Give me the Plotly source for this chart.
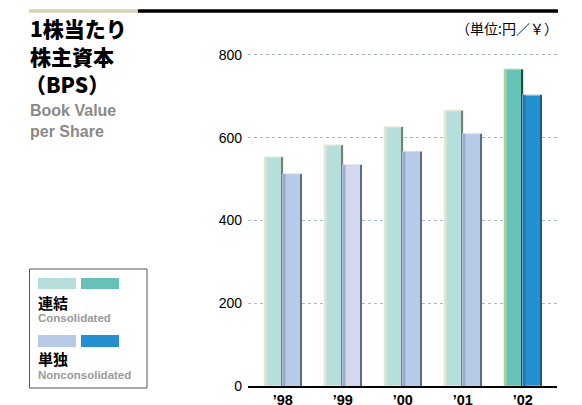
import plotly.graph_objects as go

# ---- data ----
years = ["’98", "’99", "’00", "’01", "’02"]
consolidated = [553, 582, 626, 665, 765]
nonconsolidated = [512, 534, 566, 609, 703]
y_ticks = [0, 200, 400, 600, 800]

# ---- styles ----
con_fill = ["#b6dfdb", "#b6dfdb", "#b6dfdb", "#b6dfdb", "#66c1b6"]
con_light = ["#e1e5d5", "#e1e5d5", "#e1e5d5", "#e1e5d5", "#a9d0a6"]
con_dark = ["#718270", "#718270", "#718270", "#718270", "#145c30"]
non_fill = ["#b7cbe9", "#d3d8ed", "#b7cbe9", "#b7cbe9", "#2391d1"]
non_light = ["#c9d4ee", "#c9d4ee", "#c9d4ee", "#c9d4ee", "#a9c3e4"]
non_edge = ["#97abcd", "#9aadcc", "#97abcd", "#97abcd", "#1e78b9"]
non_dark = ["#5b6b8b", "#5b6b8b", "#5b6b8b", "#5b6b8b", "#1f5a87"]

JP = "Noto Sans CJK JP"
LAT = "Liberation Sans"
NARROW = "Liberation Sans Narrow, Liberation Sans"

W, H = 582, 405
ML, MR, MT, MB = 248, 25, 45, 19
PW, PH = W - ML - MR, H - MT - MB

fig = go.Figure()

def bar(vals, offset, width, color, line_color=None, line_w=0):
    fig.add_trace(go.Bar(
        x=years, y=vals, offset=offset, width=width,
        marker=dict(color=color,
                    line=dict(color=line_color if line_color else color, width=line_w)),
        hoverinfo="skip", showlegend=False))

# consolidated bars (main + left highlight + right shadow)
bar(consolidated, -0.305, 0.305, con_fill, con_light, 1.5)
bar(consolidated, -0.305, 0.035, con_light)
bar(consolidated, -0.02, 0.018, con_dark)
# non-consolidated bars
bar(nonconsolidated, 0.0, 0.31, non_fill, non_light, 1.2)
bar(nonconsolidated, 0.0, 0.045, non_edge)
bar(nonconsolidated, 0.29, 0.02, non_dark)

def px_x(x):
    return (x - ML) / PW

def px_y(y):
    return (H - MB - y) / PH

layout_shapes = []
# tan + black top rule (decoration)
layout_shapes.append(dict(type="rect", xref="paper", yref="paper",
                          x0=px_x(29), x1=px_x(138), y0=px_y(12.8), y1=px_y(9.3),
                          fillcolor="#d8cfb6", line=dict(width=0), layer="above"))
layout_shapes.append(dict(type="rect", xref="paper", yref="paper",
                          x0=px_x(138), x1=px_x(558), y0=px_y(12.8), y1=px_y(9.3),
                          fillcolor="#000000", line=dict(width=0), layer="above"))
# legend box
layout_shapes.append(dict(type="rect", xref="paper", yref="paper",
                          x0=px_x(29.5), x1=px_x(147), y0=px_y(388), y1=px_y(269),
                          fillcolor="rgba(0,0,0,0)", line=dict(color="#555555", width=1)))
# legend swatches
for (x0, x1, y0, y1, c) in [
    (38, 76, 278, 289, "#b6dfdb"), (81, 119, 278, 289, "#66c1b6"),
    (38, 76, 335, 347, "#b7cbe9"), (81, 119, 335, 347, "#2391d1")]:
    layout_shapes.append(dict(type="rect", xref="paper", yref="paper",
                              x0=px_x(x0), x1=px_x(x1), y0=px_y(y1), y1=px_y(y0),
                              fillcolor=c, line=dict(width=0)))

annotations = []

def txt(text, x, y, size, color="#000", family=JP, weight="bold", anchor="left"):
    annotations.append(dict(text=text, xref="paper", yref="paper",
                            x=px_x(x), y=px_y(y), xanchor=anchor, yanchor="middle",
                            showarrow=False, borderpad=0,
                            font=dict(size=size, color=color, family=family, weight=weight)))

txt("1株当たり", 29, 28, 21, weight=900)
txt("株主資本", 29, 56, 21, weight=900)
txt("（BPS）", 24, 84, 21, weight=900)
txt("Book Value", 29, 110, 16, "#8a8a8a", NARROW)
txt("per Share", 29, 131, 16, "#8a8a8a", NARROW)
txt("（単位:円／￥）", 559, 28, 14, "#000", JP, "normal", "right")
txt("連結", 37, 302, 15, "#000", JP, "bold")
txt("Consolidated", 37, 318, 11.5, "#9a9a9a", NARROW)
txt("単独", 37, 358, 15, "#000", JP, "bold")
txt("Nonconsolidated", 37, 375, 11.5, "#9a9a9a", NARROW)

fig.update_layout(
    width=W, height=H,
    margin=dict(l=ML, r=MR, t=MT, b=MB),
    paper_bgcolor="white", plot_bgcolor="white",
    barmode="overlay",
    shapes=layout_shapes,
    annotations=annotations,
    xaxis=dict(type="category", range=[-0.58, 4.57], showline=True,
               linecolor="#000", linewidth=1.5, showgrid=False, ticks="",
               tickfont=dict(family=LAT, size=14.5, color="#000", weight="bold"),
               automargin=False, fixedrange=True),
    yaxis=dict(range=[0, 824], tickvals=y_ticks, showgrid=True,
               gridcolor="#a9b9cc", griddash="dot", gridwidth=1,
               zeroline=False, showline=False, ticks="",
               ticklabelstandoff=5,
               tickfont=dict(family=LAT, size=14, color="#000"),
               automargin=False, fixedrange=True),
)

fig.write_html("out.html", config={"displayModeBar": False},
               post_script="document.body.style.margin='0';document.body.style.overflow='hidden';")
